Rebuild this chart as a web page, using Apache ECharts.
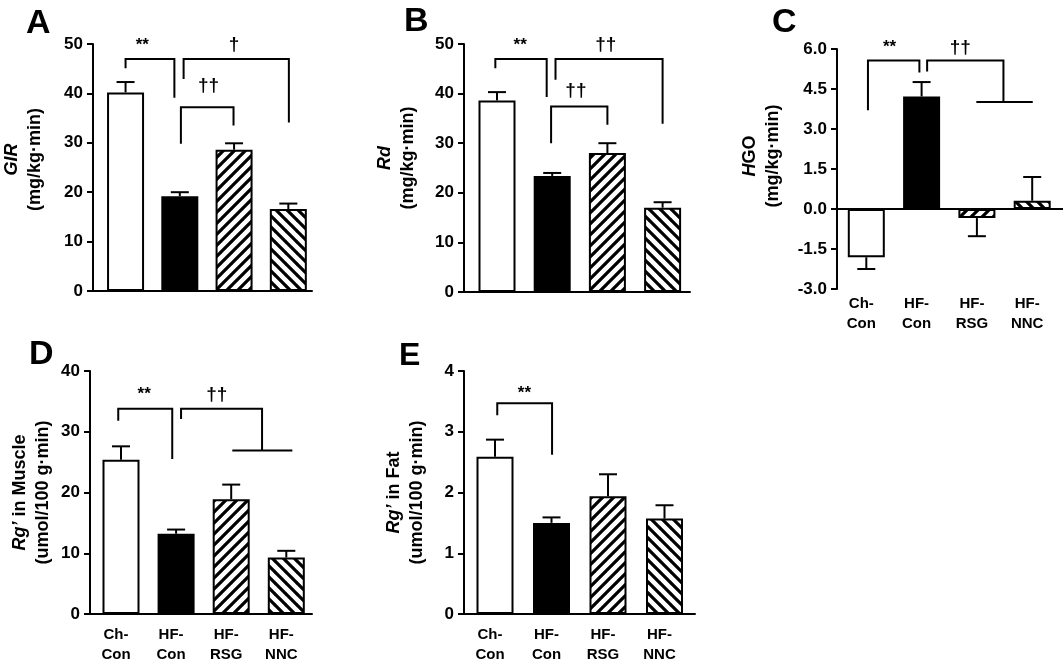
<!DOCTYPE html>
<html><head><meta charset="utf-8">
<script src="https://cdn.jsdelivr.net/npm/echarts@6/dist/echarts.min.js"></script>
<style>html,body{margin:0;padding:0;background:#fff}#c{width:1063px;height:665px}</style>
</head><body><div id="c"></div>
<script>
// ---------- data ----------
const categories = ['Ch-\nCon', 'HF-\nCon', 'HF-\nRSG', 'HF-\nNNC'];

// A: GIR
const girMean = [40.2, 19.2, 28.6, 16.6];
const girSem  = [2.1, 0.8, 1.3, 1.1];
const girTicks = [0, 10, 20, 30, 40, 50];
const girBrackets = [[0.0, 0.90, 46.96, 45.08, 39.13], [1.07, 3.01, 46.96, 42.9, 34.1], [1.02, 1.99, 37.2, 29.8, 33.5]];
const girGroupLines = [];
const girMarkPos = [[0.31, 49.8], [2.0, 49.8], [1.53, 41.6]];
const girMarkText = ['**', '†', '††'];

// B: Rd
const rdMean = [38.6, 23.4, 28.0, 17.0];
const rdSem  = [1.7, 0.6, 2.0, 1.1];
const rdTicks = [0, 10, 20, 30, 40, 50];
const rdBrackets = [[-0.03, 0.90, 47.0, 45.1, 39.3], [1.06, 3.0, 47.0, 42.8, 33.9], [0.98, 2.0, 37.4, 30.0, 33.7]];
const rdGroupLines = [];
const rdMarkPos = [[0.42, 49.8], [1.97, 49.8], [1.43, 40.6]];
const rdMarkText = ['**', '††', '††'];

// C: HGO
const hgoMean = [-1.81, 4.22, -0.34, 0.31];
const hgoSem  = [0.44, 0.54, 0.68, 0.89];
const hgoTicks = [-3.0, -1.5, 0.0, 1.5, 3.0, 4.5, 6.0];
const hgoBrackets = [[0.03, 0.96, 5.57, 3.70, 5.12], [1.10, 2.48, 5.57, 5.16, 4.01]];
const hgoGroupLines = [[1.99, 3.01, 4.01]];
const hgoMarkPos = [[0.42, 6.06], [1.70, 6.06]];
const hgoMarkText = ['**', '††'];

// D: Rg' in Muscle
const muscleMean = [25.4, 13.2, 18.9, 9.3];
const muscleSem  = [2.2, 0.7, 2.4, 1.1];
const muscleTicks = [0, 10, 20, 30, 40];
const muscleBrackets = [[-0.05, 0.93, 33.8, 31.8, 25.5], [1.09, 2.56, 33.8, 32.1, 26.9]];
const muscleGroupLines = [[2.02, 3.11, 26.9]];
const muscleMarkPos = [[0.42, 36.1], [1.74, 36.1]];
const muscleMarkText = ['**', '††'];

// E: Rg' in Fat
const fatMean = [2.59, 1.50, 1.94, 1.57];
const fatSem  = [0.28, 0.09, 0.36, 0.22];
const fatTicks = [0, 1, 2, 3, 4];
const fatBrackets = [[0.04, 1.01, 3.47, 3.27, 2.62]];
const fatGroupLines = [];
const fatMarkPos = [[0.52, 3.63]];
const fatMarkText = ['**'];

// ---------- styling helpers ----------
const FONT = '"Liberation Sans", Arial, Helvetica, sans-serif';
function hatch(dir) {
  const s = 11;
  const c = document.createElement('canvas');
  c.width = s; c.height = s;
  const g = c.getContext('2d');
  g.fillStyle = '#fff'; g.fillRect(0, 0, s, s);
  g.strokeStyle = '#000'; g.lineWidth = 3.2; g.lineCap = 'square';
  g.beginPath();
  if (dir > 0) {
    for (let k = 0; k <= 2; k++) { g.moveTo(-1, k * s + 1); g.lineTo(k * s + 1, -1); }
  } else {
    for (let k = -1; k <= 1; k++) { g.moveTo(-1, k * s - 1); g.lineTo(s + 1, k * s + s + 1); }
  }
  g.stroke();
  return { image: c, repeat: 'repeat' };
}
const fills = ['#ffffff', '#000000', hatch(1), hatch(-1)];

const option = {
  animation: false,
  backgroundColor: '#fff',
  textStyle: { fontFamily: FONT },
  grid: [], xAxis: [], yAxis: [], series: [],
  graphic: [
    { type: 'text', left: 26, top: 7, style: { text: 'A', font: 'bold 34px ' + FONT, fill: '#000' } },
    { type: 'text', left: 404, top: 5, style: { text: 'B', font: 'bold 34px ' + FONT, fill: '#000' } },
    { type: 'text', left: 772, top: 6, style: { text: 'C', font: 'bold 34px ' + FONT, fill: '#000' } },
    { type: 'text', left: 29, top: 338, style: { text: 'D', font: 'bold 34px ' + FONT, fill: '#000' } },
    { type: 'text', left: 399, top: 340, style: { text: 'E', font: 'bold 32px ' + FONT, fill: '#000' } }
  ]
};

const nameRich = {
  i: { fontStyle: 'italic', fontWeight: 'bold', fontSize: 18, lineHeight: 23, color: '#000', fontFamily: FONT },
  n: { fontWeight: 'bold', fontSize: 18, lineHeight: 23, color: '#000', fontFamily: FONT }
};

function addPanel(idx, cfg) {
  const xMin = -cfg.offset / cfg.spacing;
  const xMax = xMin + cfg.width / cfg.spacing;
  option.grid.push({ left: cfg.left, top: cfg.top, width: cfg.width, height: cfg.height });
  option.xAxis.push({
    gridIndex: idx, type: 'value', min: xMin, max: xMax,
    axisLine: { show: !cfg.zeroLine, onZero: false, lineStyle: { color: '#000', width: 2 } },
    axisTick: { show: false }, splitLine: { show: false },
    axisLabel: {
      show: cfg.showLabels, customValues: [0, 1, 2, 3],
      formatter: v => categories[Math.round(v)] || '',
      color: '#000', fontWeight: 'bold', fontSize: 15, lineHeight: 20,
      margin: cfg.labelMargin, padding: [0, 10, 0, 0], fontFamily: FONT
    }
  });
  const t = cfg.ticks;
  option.yAxis.push({
    gridIndex: idx, type: 'value', min: t[0], max: t[t.length - 1], interval: t[1] - t[0],
    axisLine: { show: true, onZero: false, lineStyle: { color: '#000', width: 2 } },
    axisTick: { show: true, length: 6, lineStyle: { color: '#000', width: 2 } },
    splitLine: { show: false },
    axisLabel: { color: '#000', fontWeight: 'bold', fontSize: 17, margin: 10, fontFamily: FONT,
      formatter: v => v.toFixed(cfg.decimals) },
    name: cfg.name, nameLocation: 'middle', nameRotate: 90, nameGap: cfg.nameGap,
    nameTextStyle: { rich: nameRich, lineHeight: 23, fontSize: 18, fontWeight: 'bold', color: '#000',
      padding: [0, 0, 0, cfg.nameShift || 0] }
  });
  const barSeries = {
    type: 'bar', xAxisIndex: idx, yAxisIndex: idx, barWidth: 37,
    data: cfg.mean.map((v, i) => ({ value: [i, v], itemStyle: { color: fills[i] } })),
    itemStyle: { borderColor: '#000', borderWidth: 2 }, z: 2
  };
  if (cfg.zeroLine) {
    barSeries.markLine = { symbol: 'none', silent: true, label: { show: false },
      lineStyle: { color: '#000', width: 2, type: 'solid' }, data: [{ yAxis: 0 }] };
  }
  option.series.push(barSeries);
  // error bars
  option.series.push({
    type: 'custom', xAxisIndex: idx, yAxisIndex: idx, z: 3, clip: false,
    data: cfg.mean.map((v, i) => [i, v, cfg.sem[i]]),
    renderItem: (params, api) => {
      const x = api.value(0), m = api.value(1), e = api.value(2);
      const end = m >= 0 ? m + e : m - e;
      const p0 = api.coord([x, m]), p1 = api.coord([x, end]);
      const st = { stroke: '#000', lineWidth: 2 };
      return { type: 'group', children: [
        { type: 'line', shape: { x1: p0[0], y1: p0[1], x2: p1[0], y2: p1[1] }, style: st },
        { type: 'line', shape: { x1: p1[0] - 9, y1: p1[1], x2: p1[0] + 9, y2: p1[1] }, style: st }
      ] };
    }
  });
  // significance brackets
  option.series.push({
    type: 'custom', xAxisIndex: idx, yAxisIndex: idx, z: 3, clip: false,
    data: cfg.brackets,
    renderItem: (params, api) => {
      const b = cfg.brackets[params.dataIndex];
      const pts = [api.coord([b[0], b[3]]), api.coord([b[0], b[2]]), api.coord([b[1], b[2]]), api.coord([b[1], b[4]])];
      return { type: 'polyline', shape: { points: pts }, style: { stroke: '#000', lineWidth: 2, fill: null } };
    }
  });
  if (cfg.groups.length) {
    option.series.push({
      type: 'custom', xAxisIndex: idx, yAxisIndex: idx, z: 3, clip: false,
      data: cfg.groups,
      renderItem: (params, api) => {
        const g = cfg.groups[params.dataIndex];
        const a = api.coord([g[0], g[2]]), b = api.coord([g[1], g[2]]);
        return { type: 'line', shape: { x1: a[0], y1: a[1], x2: b[0], y2: b[1] }, style: { stroke: '#000', lineWidth: 2 } };
      }
    });
  }
  option.series.push({
    type: 'custom', xAxisIndex: idx, yAxisIndex: idx, z: 4, clip: false,
    data: cfg.marks,
    renderItem: (params, api) => {
      const p = api.coord(cfg.marks[params.dataIndex]);
      const txt = cfg.markText[params.dataIndex];
      const size = txt.indexOf('†') >= 0 ? 19 : 17;
      return { type: 'text', x: p[0], y: p[1], style: { text: txt,
        font: 'bold ' + size + 'px ' + FONT, fill: '#000', align: 'center', verticalAlign: 'middle' } };
    }
  });
}

addPanel(0, { left: 90, top: 44, width: 222, height: 247, offset: 33, spacing: 55,
  ticks: girTicks, decimals: 0, mean: girMean, sem: girSem, brackets: girBrackets, groups: girGroupLines,
  marks: girMarkPos, markText: girMarkText, showLabels: false, labelMargin: 10, zeroLine: false,
  name: '{i|GIR}\n{n|(mg/kg·min)}', nameGap: 46, nameShift: 16 });
addPanel(1, { left: 464, top: 44, width: 226, height: 248, offset: 33, spacing: 55.2,
  ticks: rdTicks, decimals: 0, mean: rdMean, sem: rdSem, brackets: rdBrackets, groups: rdGroupLines,
  marks: rdMarkPos, markText: rdMarkText, showLabels: false, labelMargin: 10, zeroLine: false,
  name: '{i|Rd}\n{n|(mg/kg·min)}', nameGap: 44, nameShift: 20 });
addPanel(2, { left: 837, top: 49, width: 226, height: 240, offset: 29.3, spacing: 55.3,
  ticks: hgoTicks, decimals: 1, mean: hgoMean, sem: hgoSem, brackets: hgoBrackets, groups: hgoGroupLines,
  marks: hgoMarkPos, markText: hgoMarkText, showLabels: true, labelMargin: 5, zeroLine: true,
  name: '{i|H}{n|GO}\n{n|(mg/kg·min)}', nameGap: 52, nameShift: 26 });
addPanel(3, { left: 90, top: 371, width: 222, height: 244, offset: 31, spacing: 55.1,
  ticks: muscleTicks, decimals: 0, mean: muscleMean, sem: muscleSem, brackets: muscleBrackets, groups: muscleGroupLines,
  marks: muscleMarkPos, markText: muscleMarkText, showLabels: true, labelMargin: 11, zeroLine: false,
  name: '{i|Rg’}{n| in Muscle}\n{n|(umol/100 g·min)}', nameGap: 35, nameShift: 0 });
addPanel(4, { left: 464, top: 371, width: 231, height: 244, offset: 31, spacing: 56.5,
  ticks: fatTicks, decimals: 0, mean: fatMean, sem: fatSem, brackets: fatBrackets, groups: fatGroupLines,
  marks: fatMarkPos, markText: fatMarkText, showLabels: true, labelMargin: 11, zeroLine: false,
  name: '{i|Rg’}{n| in Fat}\n{n|(umol/100 g·min)}', nameGap: 35, nameShift: 0 });

const chart = echarts.init(document.getElementById('c'), null, { renderer: 'canvas' });
chart.setOption(option);
</script>
</body></html>
